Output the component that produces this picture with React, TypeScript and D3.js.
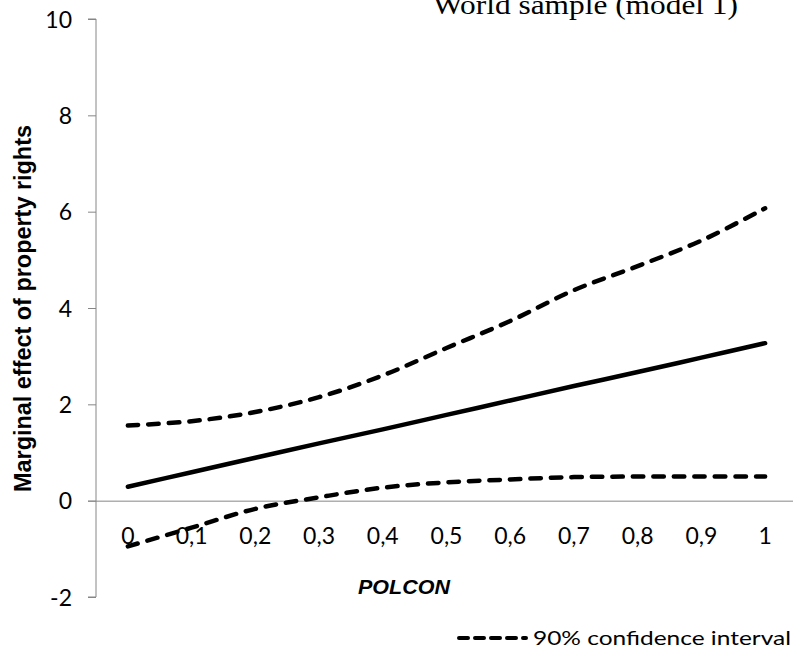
import React, { useEffect, useRef } from 'react';
import * as d3 from 'd3';

const polcon = [0, 0.1, 0.2, 0.3, 0.4, 0.5, 0.6, 0.7, 0.8, 0.9, 1];
const polconLabels = ['0', '0,1', '0,2', '0,3', '0,4', '0,5', '0,6', '0,7', '0,8', '0,9', '1'];
const marginalEffect = [0.29, 0.59, 0.89, 1.19, 1.48, 1.78, 2.08, 2.38, 2.67, 2.97, 3.27];
const upperCI = [1.56, 1.65, 1.84, 2.15, 2.6, 3.17, 3.73, 4.37, 4.87, 5.4, 6.07];
const lowerCI = [-0.95, -0.56, -0.17, 0.07, 0.27, 0.38, 0.44, 0.49, 0.5, 0.5, 0.5];
const yTicks = [-2, 0, 2, 4, 6, 8, 10];

const App = () => {
    const ref = useRef<SVGSVGElement>(null);

    useEffect(() => {
        const svg = d3.select(ref.current);
        svg.selectAll('*').remove();

        const axisColor = '#868686';
        const tickFont = 'Lato, "Liberation Sans", sans-serif';

        const x = d3.scalePoint<string>()
            .domain(polconLabels)
            .range([96, 797])
            .padding(0.5);

        const y = d3.scaleLinear()
            .domain([-2, 10])
            .range([597, 19]);

        // title, cut off at the top like the original
        svg.append('text')
            .attr('x', 433)
            .attr('y', 14)
            .attr('textLength', 305)
            .attr('lengthAdjust', 'spacingAndGlyphs')
            .style('font-family', '"Liberation Serif", "Times New Roman", serif')
            .style('font-size', '27px')
            .attr('fill', '#000')
            .text('World sample (model 1)');

        // value axis
        const yAxis = svg.append('g').attr('transform', 'translate(96,0)');
        yAxis.call(d3.axisLeft(y).tickValues(yTicks).tickSize(8).tickPadding(16).tickFormat(d => String(d)))
            .call(g => g.select('.domain').attr('stroke', axisColor).attr('d', `M-8,${y(10)}H0V${y(-2)}H-8`))
            .call(g => g.selectAll('.tick line').attr('stroke', axisColor))
            .call(g => g.selectAll('.tick text')
                .attr('fill', '#000')
                .attr('dy', '0.36em')
                .style('font-family', tickFont)
                .style('font-size', '23px'));

        // category axis crossing at 0
        svg.append('line')
            .attr('x1', 88)
            .attr('x2', 793)
            .attr('y1', y(0) + 0.5)
            .attr('y2', y(0) + 0.5)
            .attr('stroke', axisColor)
            .attr('stroke-width', 1);

        svg.append('g')
            .selectAll('text')
            .data(polconLabels)
            .join('text')
            .attr('x', d => x(d) as number)
            .attr('y', 544)
            .attr('text-anchor', 'middle')
            .style('font-family', tickFont)
            .style('font-size', '23px')
            .attr('fill', '#000')
            .text(d => d);

        // axis titles
        svg.append('text')
            .attr('transform', `translate(31,${(125 + 492) / 2}) rotate(-90)`)
            .attr('text-anchor', 'middle')
            .attr('textLength', 367)
            .attr('lengthAdjust', 'spacingAndGlyphs')
            .style('font-family', '"Liberation Sans", Arial, sans-serif')
            .style('font-weight', 'bold')
            .style('font-size', '23px')
            .text('Marginal effect of property rights');

        svg.append('text')
            .attr('x', 358)
            .attr('y', 594)
            .attr('textLength', 92)
            .attr('lengthAdjust', 'spacingAndGlyphs')
            .style('font-family', '"Liberation Sans", Arial, sans-serif')
            .style('font-weight', 'bold')
            .style('font-style', 'italic')
            .style('font-size', '20px')
            .text('POLCON');

        const line = d3.line<number>()
            .x((_, i) => x(polconLabels[i]) as number)
            .y(d => y(d))
            .curve(d3.curveCatmullRom.alpha(0.5));

        const plot = svg.append('g');

        [upperCI, lowerCI].forEach(series => {
            plot.append('path')
                .datum(series)
                .attr('fill', 'none')
                .attr('stroke', '#000')
                .attr('stroke-width', 4.5)
                .attr('stroke-linecap', 'round')
                .attr('stroke-dasharray', '10.5 10')
                .attr('d', line);
        });

        plot.append('path')
            .datum(marginalEffect)
            .attr('fill', 'none')
            .attr('stroke', '#000')
            .attr('stroke-width', 4.5)
            .attr('stroke-linecap', 'round')
            .attr('stroke-linejoin', 'round')
            .attr('d', line);

        // legend
        const legend = svg.append('g');
        legend.append('line')
            .attr('x1', 459)
            .attr('x2', 526)
            .attr('y1', 638)
            .attr('y2', 638)
            .attr('stroke', '#000')
            .attr('stroke-width', 4)
            .attr('stroke-linecap', 'round')
            .attr('stroke-dasharray', '9 7');
        legend.append('text')
            .attr('x', 533)
            .attr('y', 645)
            .attr('textLength', 258)
            .attr('lengthAdjust', 'spacingAndGlyphs')
            .style('font-family', tickFont)
            .style('font-size', '20px')
            .attr('fill', '#000')
            .text('90% confidence interval');
    }, []);

    return (
        <div style={{ position: 'absolute', left: 0, top: 0 }}>
            <svg ref={ref} width="793" height="657" style={{ display: 'block', background: '#fff' }}></svg>
        </div>
    );
};

export default App;
